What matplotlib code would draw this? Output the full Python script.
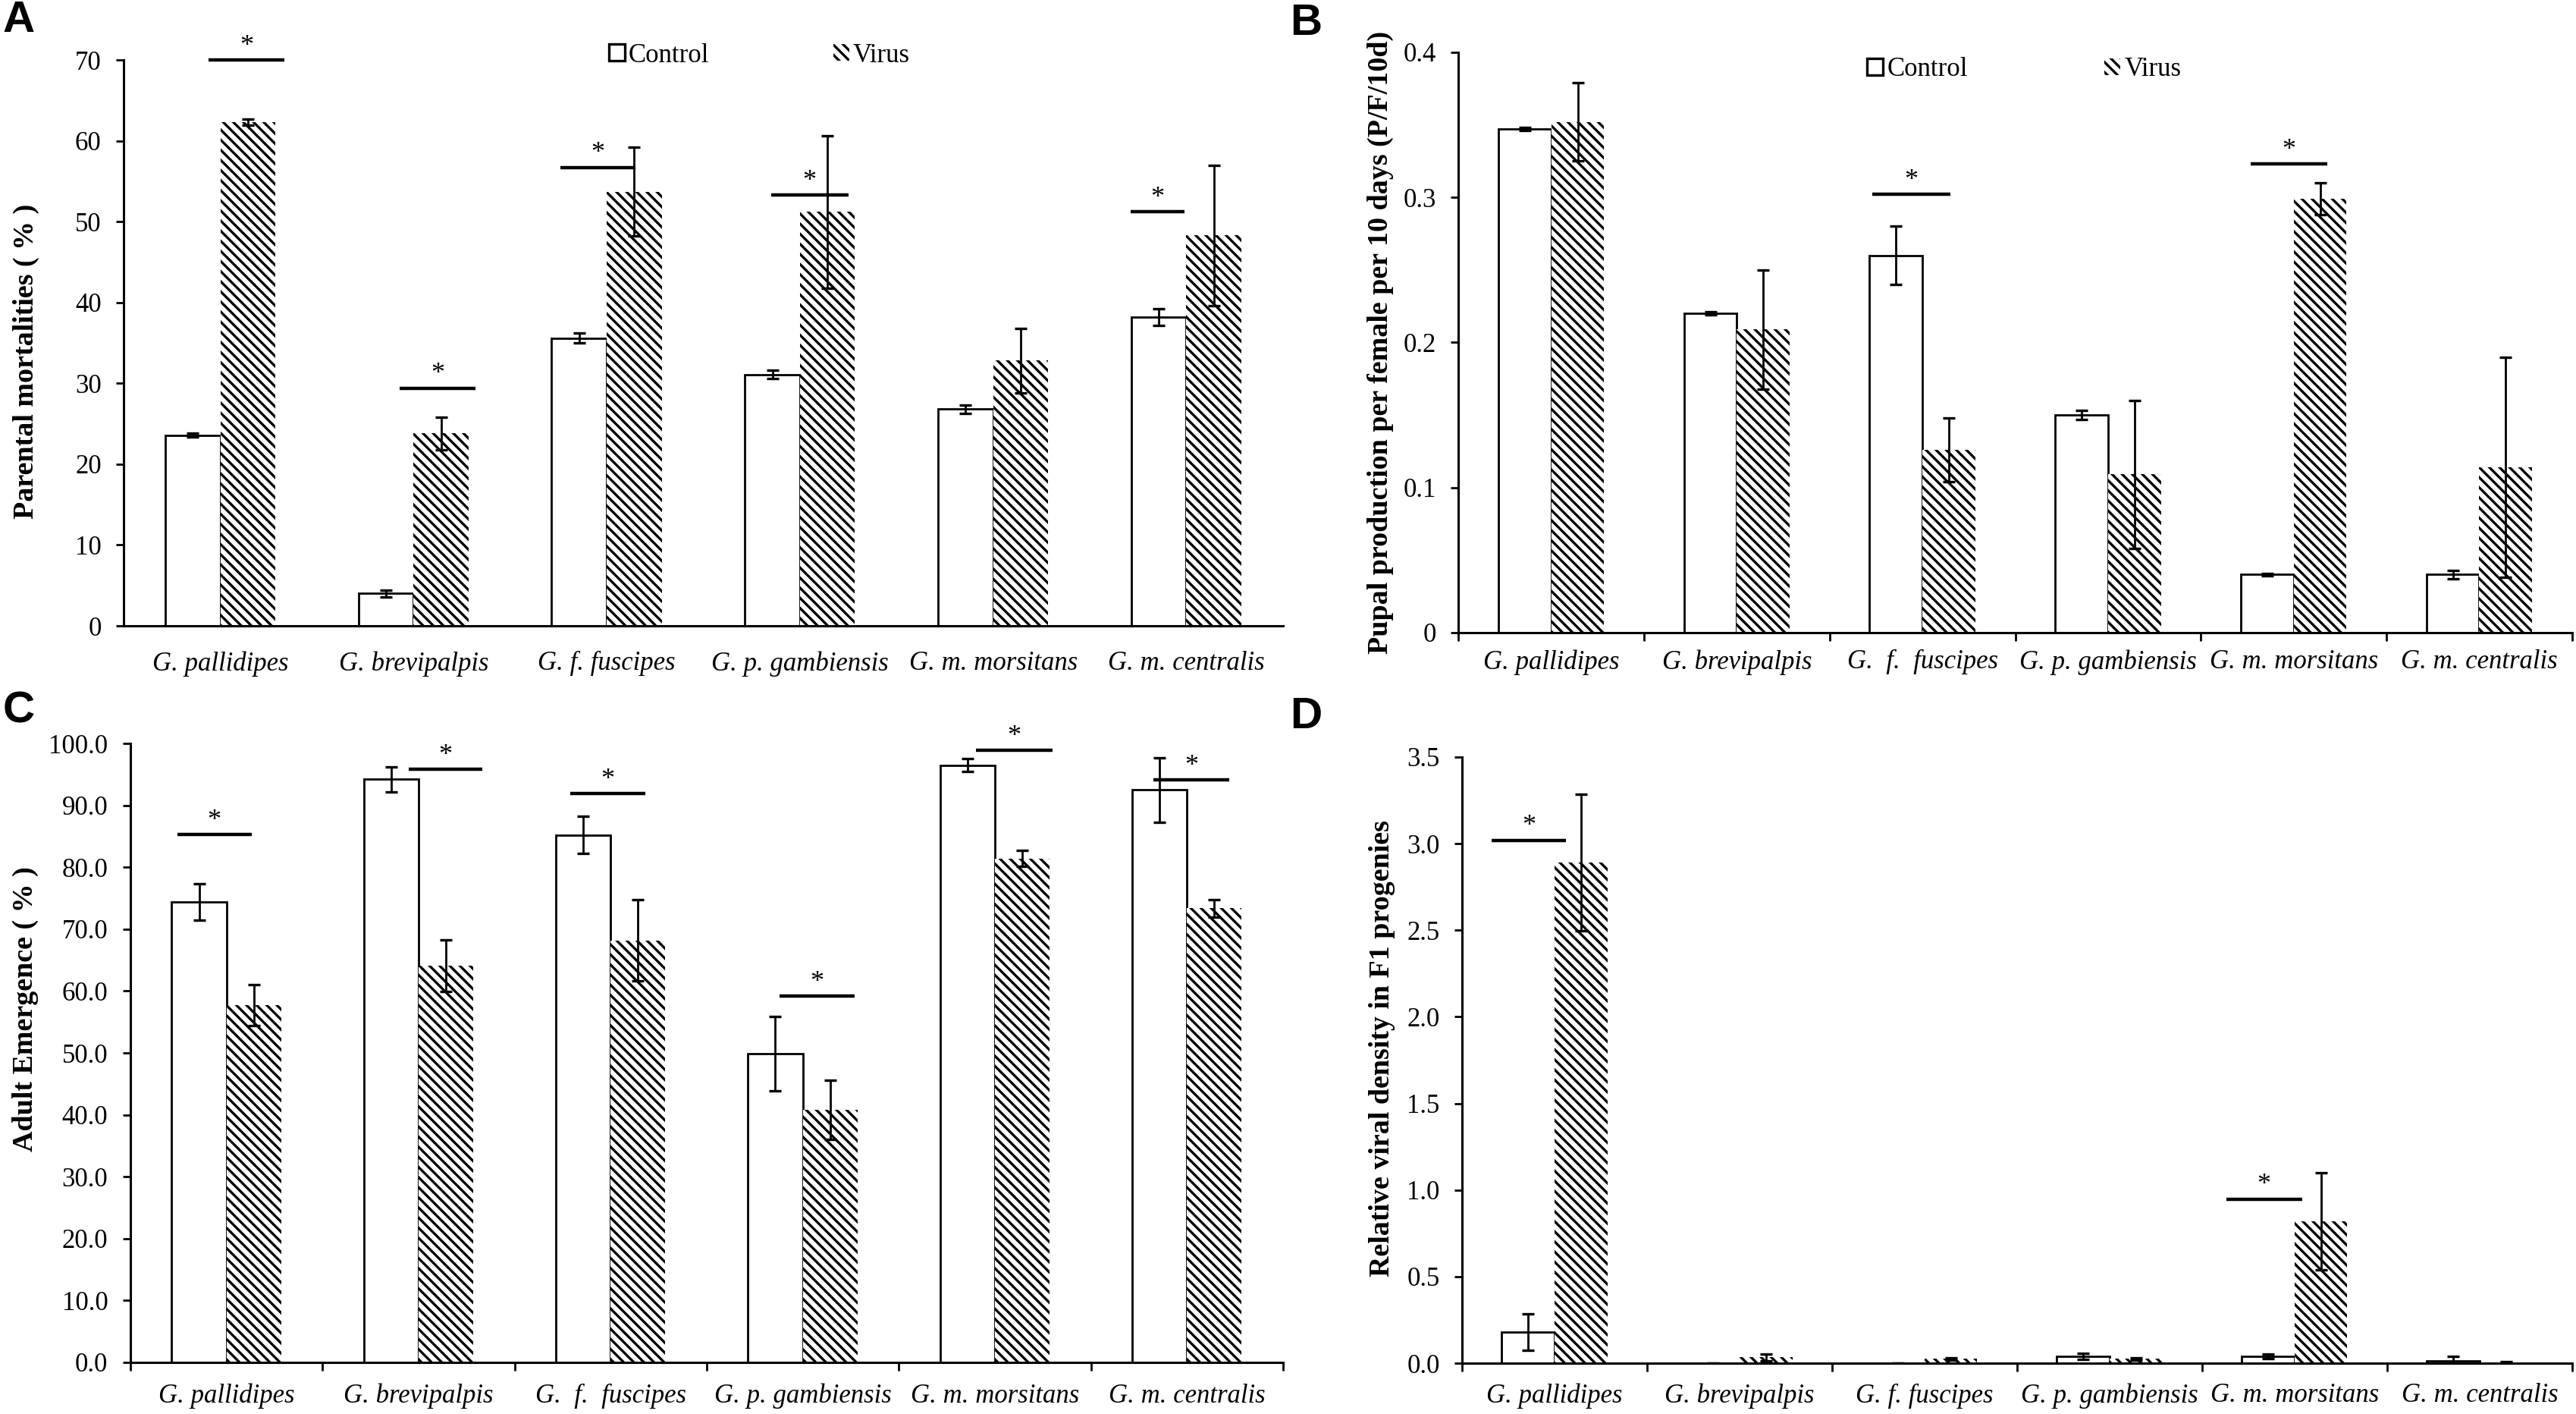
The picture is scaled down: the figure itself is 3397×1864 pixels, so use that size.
import numpy as np
import matplotlib
matplotlib.use("Agg")
import matplotlib.pyplot as plt
from matplotlib.patches import Patch

plt.rcParams['font.family'] = ['Liberation Serif', 'DejaVu Serif']
plt.rcParams['hatch.linewidth'] = 1.2

# category labels (panels differ slightly in spacing, as in the figure)
labels_a = ['G. pallidipes', 'G. brevipalpis', 'G. f. fuscipes', 'G. p. gambiensis', 'G. m. morsitans', 'G. m. centralis']
labels_b = ['G. pallidipes', 'G. brevipalpis', 'G.  f.  fuscipes', 'G. p. gambiensis', 'G. m. morsitans', 'G. m. centralis']
labels_c = labels_b
labels_d = labels_a

# A - parental mortalities (%)
a_ctrl = [23.6, 4.0, 35.6, 31.1, 26.8, 38.2]
a_ctrl_err = [0.2, 0.4, 0.6, 0.5, 0.5, 1.0]
a_vir = [62.3, 23.8, 53.7, 51.2, 32.8, 48.3]
a_vir_err = [0.4, 2.0, 5.5, 9.4, 4.0, 8.7]
a_sig_cat = [0, 1, 2, 3, 5]
a_sig_x0 = [-0.06, -0.07, -0.24, -0.15, -0.29]
a_sig_x1 = [0.33, 0.32, 0.15, 0.25, -0.01]
a_sig_y = [70.0, 29.4, 56.7, 53.3, 51.2]

# B - pupal production
b_ctrl = [0.347, 0.220, 0.260, 0.150, 0.040, 0.040]
b_ctrl_err = [0.001, 0.001, 0.020, 0.003, 0.001, 0.003]
b_vir = [0.352, 0.209, 0.126, 0.109, 0.299, 0.114]
b_vir_err = [0.027, 0.041, 0.022, 0.051, 0.011, 0.076]
b_sig_cat = [2, 4]
b_sig_x0 = [-0.27, -0.23]
b_sig_x1 = [0.15, 0.18]
b_sig_y = [0.302, 0.323]

# C - adult emergence (%)
c_ctrl = [74.4, 94.2, 85.2, 49.9, 96.5, 92.5]
c_ctrl_err = [2.9, 2.0, 3.0, 6.0, 1.0, 5.2]
c_vir = [57.7, 64.1, 68.2, 40.8, 81.4, 73.4]
c_vir_err = [3.3, 4.2, 6.6, 4.8, 1.3, 1.4]
c_sig_cat = [0, 1, 2, 3, 4, 5]
c_sig_x0 = [-0.255, -0.05, -0.21, -0.12, -0.10, -0.175]
c_sig_x1 = [0.13, 0.33, 0.18, 0.27, 0.30, 0.22]
c_sig_y = [85.3, 95.8, 91.9, 59.2, 98.9, 94.1]

# D - relative viral density in F1
d_ctrl = [0.18, 0.0, 0.0, 0.04, 0.04, 0.015]
d_ctrl_err = [0.105, 0.0, 0.0, 0.016, 0.015, 0.025]
d_vir = [2.89, 0.035, 0.025, 0.025, 0.82, 0.005]
d_vir_err = [0.395, 0.02, 0.008, 0.008, 0.28, 0.003]
d_sig_cat = [0, 4]
d_sig_x0 = [-0.34, -0.37]
d_sig_x1 = [0.06, 0.04]
d_sig_y = [3.02, 0.948]

HATCH = '\\\\\\\\\\'
W = 0.285
FS = 12.5
YL_FS = 13.7


def panel(ax, ctrl, ctrl_err, vir, vir_err, labels, yticks, fmt, ylabel,
          sig_cat, sig_x0, sig_x1, sig_y, xtick_len, label_pad):
    x = np.arange(len(ctrl))
    ax.bar(x - W / 2, ctrl, W, color='white', edgecolor='black', linewidth=1.0, zorder=2)
    ax.bar(x + W / 2, vir, W, color='white', edgecolor='black', linewidth=0, hatch=HATCH, zorder=2)
    ax.errorbar(x - W / 2, ctrl, yerr=ctrl_err, fmt='none', ecolor='black',
                elinewidth=1.0, capsize=3, capthick=1.2, zorder=3)
    ax.errorbar(x + W / 2, vir, yerr=vir_err, fmt='none', ecolor='black',
                elinewidth=1.0, capsize=3, capthick=1.2, zorder=3)

    for c, x0, x1, y in zip(sig_cat, sig_x0, sig_x1, sig_y):
        ax.plot([c + x0, c + x1], [y, y], color='black', lw=1.6,
                solid_capstyle='butt', clip_on=False, zorder=4)
        ax.annotate('*', xy=(c + (x0 + x1) / 2, y), xytext=(0, 0.5),
                    textcoords='offset points', ha='center', va='bottom',
                    fontsize=13, annotation_clip=False)

    ax.set_xlim(-0.5, len(ctrl) - 0.5)
    ax.set_ylim(yticks[0], yticks[-1])
    ax.set_yticks(yticks)
    ax.set_yticklabels([fmt.format(v) for v in yticks], fontsize=FS)
    ax.set_xticks(np.arange(len(ctrl) + 1) - 0.5)
    ax.set_xticklabels([])
    ax.set_xticks(x, minor=True)
    ax.set_xticklabels(labels, minor=True, fontsize=FS, style='italic')
    ax.tick_params(axis='x', which='major', length=xtick_len, width=1.0, direction='out')
    ax.tick_params(axis='x', which='minor', length=0, pad=label_pad)
    ax.tick_params(axis='y', length=3.6, width=1.0, pad=7)
    for s in ['top', 'right']:
        ax.spines[s].set_visible(False)
    for s in ['left', 'bottom']:
        ax.spines[s].set_linewidth(1.1)
    ax.set_ylabel(ylabel, fontsize=YL_FS, fontweight='bold')
    ax.yaxis.label.set_verticalalignment('center')


def legend(ax, x, y, spacing):
    handles = [Patch(facecolor='white', edgecolor='black', linewidth=1.2, label='Control'),
               Patch(facecolor='white', edgecolor='black', linewidth=0, hatch=HATCH, label='Virus')]
    ax.legend(handles=handles, ncol=2, frameon=False, loc='center left',
              bbox_to_anchor=(x, y), handlelength=0.6, handleheight=0.6,
              handletextpad=0.15, columnspacing=spacing, fontsize=FS,
              borderpad=0, borderaxespad=0)


fig = plt.figure(figsize=(16.99, 9.32), dpi=200)

ax_a = fig.add_axes([0.048, 0.5574, 0.4499, 0.4002])
panel(ax_a, a_ctrl, a_ctrl_err, a_vir, a_vir_err, labels_a, list(range(0, 71, 10)), '{:d}',
      'Parental mortalities ( % )', a_sig_cat, a_sig_x0, a_sig_x1, a_sig_y, 0, 12)
ax_a.yaxis.set_label_coords(-0.084, 0.468)
legend(ax_a, 0.4186, 1.008, 4.7)

ax_b = fig.add_axes([0.566, 0.5526, 0.4322, 0.4104])
panel(ax_b, b_ctrl, b_ctrl_err, b_vir, b_vir_err, labels_b, [0, 0.1, 0.2, 0.3, 0.4], '{:g}',
      'Pupal production per female per 10 days (P/F/10d)', b_sig_cat, b_sig_x0, b_sig_x1, b_sig_y, 4, 8)
ax_b.yaxis.set_label_coords(-0.070, 0.50)
legend(ax_b, 0.367, 0.970, 5.2)

ax_c = fig.add_axes([0.0506, 0.0365, 0.4473, 0.4377])
panel(ax_c, c_ctrl, c_ctrl_err, c_vir, c_vir_err, labels_c, [float(v) for v in range(0, 101, 10)], '{:.1f}',
      'Adult Emergence ( % )', c_sig_cat, c_sig_x0, c_sig_x1, c_sig_y, 4, 10)
ax_c.yaxis.set_label_coords(-0.0914, 0.571)

ax_d = fig.add_axes([0.5674, 0.0359, 0.4308, 0.4287])
panel(ax_d, d_ctrl, d_ctrl_err, d_vir, d_vir_err, labels_d, [0, 0.5, 1.0, 1.5, 2.0, 2.5, 3.0, 3.5], '{:.1f}',
      'Relative viral density in F1 progenies', d_sig_cat, d_sig_x0, d_sig_x1, d_sig_y, 4, 9.5)
ax_d.yaxis.set_label_coords(-0.072, 0.519)

for letter, fx, fy in [('A', 0.001, 1.0), ('B', 0.5005, 0.998), ('C', 0.001, 1 - 910 / 1864), ('D', 0.5005, 1 - 918 / 1864)]:
    fig.text(fx, fy, letter, fontsize=21, fontweight='bold', va='top', ha='left',
             family=['Liberation Sans', 'DejaVu Sans'])

fig.savefig('out.png', dpi=200)
